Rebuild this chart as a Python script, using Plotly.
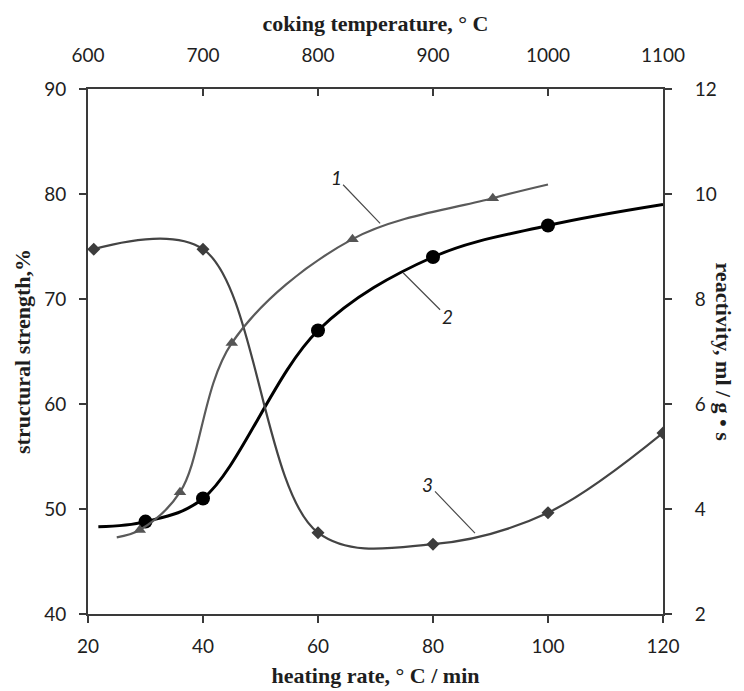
import plotly.graph_objects as go

# ---- data ----
# curve 1: structural strength vs coking temperature (top axis, left axis)
temp_line = [625, 645, 680, 725, 830, 952, 1000]
strength_t = [47.3, 48.0, 51.6, 65.8, 75.7, 79.6, 80.9]
temp_marks = [645, 680, 725, 830, 952]
strength_t_marks = [48.0, 51.6, 65.8, 75.7, 79.6]

# curve 2: structural strength vs heating rate (bottom axis, left axis)
rate_line = [21.8, 30, 40, 60, 80, 100, 120]
strength_r = [48.3, 48.8, 51.0, 67.0, 74.0, 77.0, 79.0]
rate_marks = [30, 40, 60, 80, 100]
strength_r_marks = [48.8, 51.0, 67.0, 74.0, 77.0]

# curve 3: reactivity vs heating rate (bottom axis, right axis)
rate3 = [21, 40, 60, 80, 100, 120]
reactivity = [8.95, 8.95, 3.55, 3.33, 3.93, 5.45]

x_ticks = [20, 40, 60, 80, 100, 120]
t_ticks = [600, 700, 800, 900, 1000, 1100]
y_ticks = [40, 50, 60, 70, 80, 90]
y2_ticks = [2, 4, 6, 8, 10, 12]

# curve labels: (text, x, y of leader end on bottom/left axes)
curve_labels = ["1", "2", "3"]
label_x = [70.8, 74.8, 87.3]
label_y = [77.2, 72.5, 47.7]
label_ax = [-44, 44, -47]
label_ay = [-46, 44, -49]

TICKFONT = dict(family="Lato, 'Open Sans', sans-serif", size=19, color="#1e1e1e")
TITLEFONT = dict(family="'Liberation Serif', 'DejaVu Serif', serif", size=22, color="#1e1e1e")
AX = "#3a3a3a"

fig = go.Figure()

fig.add_trace(go.Scatter(x=temp_line, y=strength_t, xaxis="x2", yaxis="y",
                         mode="lines", line=dict(color="#5a5a5a", width=2.2, shape="spline", smoothing=1.0),
                         showlegend=False, hoverinfo="skip"))
fig.add_trace(go.Scatter(x=temp_marks, y=strength_t_marks, xaxis="x2", yaxis="y",
                         mode="markers", marker=dict(symbol="triangle-up", size=11, color="#555555"),
                         showlegend=False))

fig.add_trace(go.Scatter(x=rate_line, y=strength_r, xaxis="x", yaxis="y",
                         mode="lines", line=dict(color="#000000", width=3, shape="spline", smoothing=1.0),
                         showlegend=False, hoverinfo="skip"))
fig.add_trace(go.Scatter(x=rate_marks, y=strength_r_marks, xaxis="x", yaxis="y",
                         mode="markers", marker=dict(symbol="circle", size=14, color="#000000"),
                         showlegend=False))

fig.add_trace(go.Scatter(x=rate3, y=reactivity, xaxis="x", yaxis="y2",
                         mode="lines+markers",
                         line=dict(color="#444444", width=2.2, shape="spline", smoothing=1.0),
                         marker=dict(symbol="diamond", size=10, color="#3c3c3c"),
                         showlegend=False))

annotations = []
for t, x, y, ax, ay in zip(curve_labels, label_x, label_y, label_ax, label_ay):
    annotations.append(dict(x=x, y=y, xref="x", yref="y", text=f"<i>{t}</i>",
                            showarrow=True, arrowhead=0, arrowwidth=1.2, arrowcolor="#4a4a4a",
                            ax=ax, ay=ay, standoff=0,
                            font=dict(family="Lato, sans-serif", size=19, color="#1e1e1e")))
annotations.append(dict(x=1.0, y=0.5, xref="paper", yref="paper", xanchor="center", yanchor="middle",
                        xshift=60, text="<b>reactivity, ml / g • s</b>", textangle=90, showarrow=False,
                        font=TITLEFONT))

fig.update_layout(
    width=744, height=691,
    margin=dict(l=80, r=89, t=81, b=85, autoexpand=False),
    paper_bgcolor="white", plot_bgcolor="white",
    xaxis=dict(range=[20, 120], tickvals=x_ticks, ticks="outside", ticklen=7, tickwidth=1.5,
               tickcolor=AX, showline=True, linecolor=AX, linewidth=2, showgrid=False, zeroline=False,
               tickfont=TICKFONT, ticklabelstandoff=7,
               title=dict(text="<b>heating rate, ° C / min</b>", font=TITLEFONT, standoff=12)),
    xaxis2=dict(range=[600, 1100], tickvals=t_ticks, overlaying="x", side="top", anchor="y",
                ticks="inside", ticklen=7, tickwidth=1.5, tickcolor=AX,
                showline=True, linecolor=AX, linewidth=2, showgrid=False, zeroline=False,
                tickfont=TICKFONT, ticklabelstandoff=17,
                title=dict(text="<b>coking temperature, ° C</b>", font=TITLEFONT, standoff=6)),
    yaxis=dict(range=[40, 90], tickvals=y_ticks, ticks="outside", ticklen=7, tickwidth=1.5,
               tickcolor=AX, showline=True, linecolor=AX, linewidth=2, showgrid=False, zeroline=False,
               tickfont=TICKFONT, ticklabelstandoff=9,
               title=dict(text="<b>structural strength,%</b>", font=TITLEFONT, standoff=7)),
    yaxis2=dict(range=[2, 12], tickvals=y2_ticks, overlaying="y", side="right", anchor="x",
                ticks="outside", ticklen=7, tickwidth=1.5, tickcolor=AX,
                showline=True, linecolor=AX, linewidth=2, showgrid=False, zeroline=False,
                tickfont=TICKFONT, ticklabelstandoff=19),
    annotations=annotations,
)

fig.write_html("out.html")
